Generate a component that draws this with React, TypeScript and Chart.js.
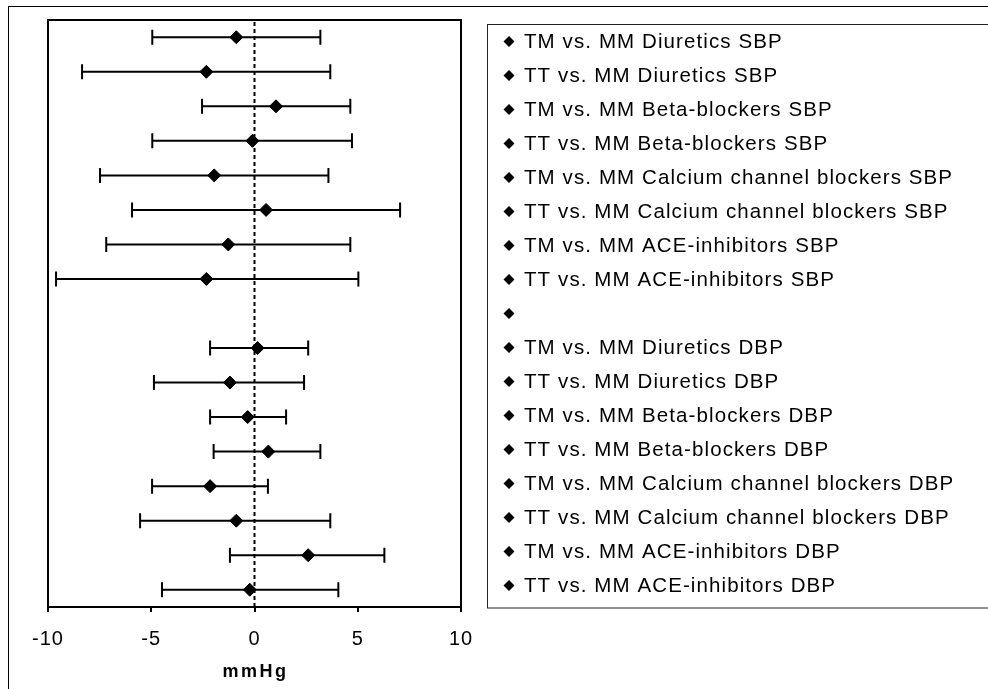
import React, { useEffect, useRef } from "react";
import { Chart, registerables } from "chart.js";
Chart.register(...registerables);

const comparisons: string[] = [
  "TM vs. MM Diuretics SBP",
  "TT vs. MM Diuretics SBP",
  "TM vs. MM Beta-blockers SBP",
  "TT vs. MM Beta-blockers SBP",
  "TM vs. MM Calcium channel blockers SBP",
  "TT vs. MM Calcium channel blockers SBP",
  "TM vs. MM ACE-inhibitors SBP",
  "TT vs. MM ACE-inhibitors SBP",
  "",
  "TM vs. MM Diuretics DBP",
  "TT vs. MM Diuretics DBP",
  "TM vs. MM Beta-blockers DBP",
  "TT vs. MM Beta-blockers DBP",
  "TM vs. MM Calcium channel blockers DBP",
  "TT vs. MM Calcium channel blockers DBP",
  "TM vs. MM ACE-inhibitors DBP",
  "TT vs. MM ACE-inhibitors DBP",
];

const means: (number | null)[] = [-0.88, -2.33, 1.04, -0.1, -1.95, 0.56, -1.27, -2.33, null, 0.15, -1.19, -0.33, 0.67, -2.15, -0.88, 2.6, -0.23];
const lower: (number | null)[] = [-4.95, -8.35, -2.54, -4.95, -7.48, -5.93, -7.18, -9.61, null, -2.15, -4.87, -2.15, -1.98, -4.96, -5.54, -1.19, -4.48];
const upper: (number | null)[] = [3.19, 3.67, 4.64, 4.72, 3.58, 7.05, 4.64, 5.03, null, 2.6, 2.4, 1.53, 3.19, 0.65, 3.67, 6.29, 4.06];

const xTicks: number[] = [-10, -5, 0, 5, 10];
const xTitle = "mmHg";

const FONT = '"Liberation Sans", Arial, sans-serif';

const forestPlugin = {
  id: "forest",
  beforeDraw(chart: any) {
    const ctx = chart.ctx;
    ctx.save();
    ctx.fillStyle = "#fff";
    ctx.fillRect(0, 0, chart.width, chart.height);
    ctx.restore();
    (ctx as any).letterSpacing = "1px";
  },
  beforeDatasetsDraw(chart: any) {
    const ctx = chart.ctx;
    const xs = chart.scales.x;
    const ys = chart.scales.y;
    const area = chart.chartArea;
    ctx.save();
    const x0 = xs.getPixelForValue(0);
    ctx.strokeStyle = "#000";
    ctx.lineWidth = 2;
    ctx.setLineDash([4, 3]);
    ctx.beginPath();
    ctx.moveTo(x0, area.top + 2);
    ctx.lineTo(x0, area.bottom);
    ctx.stroke();
    ctx.setLineDash([]);
    ctx.lineWidth = 2;
    for (let i = 0; i < comparisons.length; i++) {
      const lo = lower[i];
      const hi = upper[i];
      if (lo == null || hi == null) continue;
      const y = ys.getPixelForValue(i);
      const xl = xs.getPixelForValue(lo);
      const xh = xs.getPixelForValue(hi);
      ctx.beginPath();
      ctx.moveTo(xl, y);
      ctx.lineTo(xh, y);
      ctx.moveTo(xl, y - 7.5);
      ctx.lineTo(xl, y + 7.5);
      ctx.moveTo(xh, y - 7.5);
      ctx.lineTo(xh, y + 7.5);
      ctx.stroke();
    }
    ctx.restore();
  },
  afterDraw(chart: any) {
    const ctx = chart.ctx;
    const area = chart.chartArea;
    ctx.save();
    (ctx as any).letterSpacing = "0px";
    ctx.strokeStyle = "#000";
    ctx.lineWidth = 1;
    ctx.strokeRect(8.5, 6.5, 2000, 2000);
    ctx.lineWidth = 2;
    ctx.strokeRect(area.left, area.top, area.right - area.left, area.bottom - area.top);
    ctx.lineWidth = 1;
    ctx.strokeStyle = "#222";
    ctx.strokeRect(487.5, 24.5, 1000, 583.5);
    ctx.fillStyle = "#000";
    ctx.font = `20.5px ${FONT}`;
    (ctx as any).letterSpacing = "1.1px";
    ctx.textBaseline = "middle";
    ctx.textAlign = "left";
    comparisons.forEach((label, i) => {
      const y = 41.5 + 34 * i;
      const x = 509;
      const r = 5.5;
      ctx.beginPath();
      ctx.moveTo(x - r, y);
      ctx.lineTo(x, y - r);
      ctx.lineTo(x + r, y);
      ctx.lineTo(x, y + r);
      ctx.closePath();
      ctx.fill();
      if (label) ctx.fillText(label, 524, y + 1);
    });
    ctx.font = `bold 18px ${FONT}`;
    (ctx as any).letterSpacing = "2.5px";
    ctx.textAlign = "center";
    const xs = chart.scales.x;
    ctx.fillText(xTitle, xs.getPixelForValue(0) + 1, 672);
    ctx.restore();
  },
};

export default function App() {
  const ref = useRef<HTMLCanvasElement | null>(null);
  useEffect(() => {
    if (!ref.current) return;
    const datasets = comparisons.map((label, i) => ({
      label,
      data: means[i] == null ? [] : [{ x: means[i] as number, y: i }],
      pointStyle: "rectRot" as const,
      pointRadius: 6.5,
      pointHoverRadius: 6.5,
      backgroundColor: "#000",
      borderColor: "#000",
      borderWidth: 1,
      showLine: false,
    }));
    const chart = new Chart(ref.current, {
      type: "scatter",
      data: { datasets },
      options: {
        animation: false,
        responsive: false,
        devicePixelRatio: 1,
        layout: { padding: { left: 48, top: 20, right: 527, bottom: 0 } },
        plugins: { legend: { display: false }, tooltip: { enabled: false } },
        scales: {
          x: {
            type: "linear",
            min: xTicks[0],
            max: xTicks[xTicks.length - 1],
            afterFit: (s: any) => {
              s.height = 82;
            },
            afterBuildTicks: (s: any) => {
              s.ticks = xTicks.map((v) => ({ value: v }));
            },
            ticks: {
              color: "#000",
              font: { family: FONT, size: 20 },
              padding: 15,
              maxRotation: 0,
            },
            grid: {
              display: true,
              drawOnChartArea: false,
              drawTicks: true,
              tickLength: 5,
              color: "#000",
              lineWidth: 2,
            },
            border: { display: false },
            title: { display: false },
          },
          y: {
            type: "linear",
            display: false,
            min: -0.5,
            max: comparisons.length - 0.5,
            reverse: true,
          },
        },
      },
      plugins: [forestPlugin],
    });
    return () => chart.destroy();
  }, []);
  return (
    <div style={{ position: "absolute", left: 0, top: 0, width: 988, height: 689 }}>
      <canvas ref={ref} width={988} height={689} style={{ display: "block" }} />
    </div>
  );
}
